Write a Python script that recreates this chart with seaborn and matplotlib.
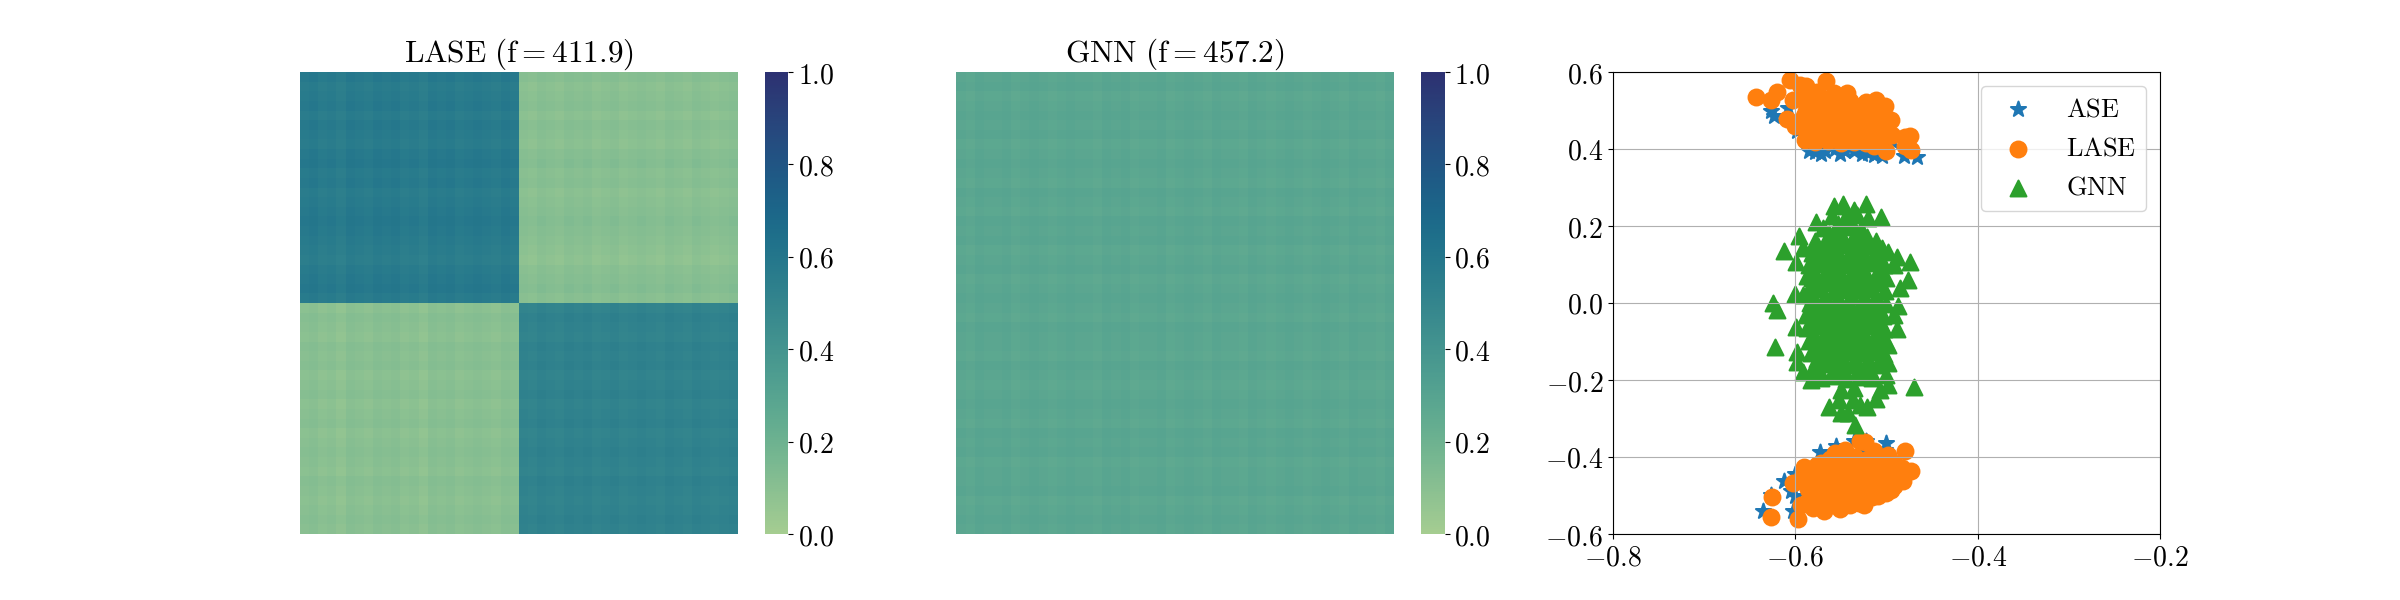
"""
Two probability-matrix heatmaps and the embedding scatter next to them.
Values are read off the reference by eye.
"""
import matplotlib
matplotlib.use("Agg")
import matplotlib.pyplot as plt
import numpy as np
import seaborn as sns

# block levels: [[top-left, top-right], [bottom-left, bottom-right]]
lase_blocks = [[0.57, 0.10], [0.10, 0.52]]
gnn_level = 0.28

# faint row / column stripes, one value per band, top to bottom and left to right
lase_row_bands = [0.01, -0.01, 0.00, 0.01, -0.01, 0.01, 0.00, -0.01, 0.01, 0.02, 0.00, 0.01,
                  -0.01, 0.00, 0.01, 0.02, 0.01, 0.00, -0.01, -0.02, 0.00, 0.01, 0.02, 0.00,
                  -0.01, 0.01, 0.00, -0.01, 0.01, 0.00, 0.01, -0.01, 0.00, 0.01, -0.01, 0.00,
                  0.01, -0.01, 0.00, 0.01, 0.00, -0.01, 0.01, 0.00, -0.01, 0.00, 0.01, 0.00]
lase_col_bands = [0.00, 0.01, -0.01, 0.00, -0.02, 0.01, 0.00, -0.01, 0.01, 0.00, 0.01, -0.01,
                  0.00, -0.02, 0.01, 0.00, 0.01, -0.01, 0.00, 0.01, 0.00, -0.01, 0.01, 0.00,
                  0.00, -0.01, 0.01, 0.00, -0.01, 0.01, 0.00, 0.01, -0.01, 0.00, 0.01, -0.01,
                  0.00, 0.01, 0.00, -0.01, 0.01, 0.00, -0.01, 0.01, 0.00, -0.01, 0.00, 0.01]
gnn_row_bands = [0.00, 0.01, -0.01, 0.00, 0.01, 0.00, 0.01, -0.01, 0.00, 0.01, 0.00, -0.01,
                 0.01, 0.00, -0.01, 0.01, 0.00, 0.01, -0.01, 0.00, 0.01, -0.01, 0.00, 0.01,
                 0.00, -0.01, 0.01, 0.00, 0.00, -0.01, 0.01, 0.00, -0.01, 0.00, 0.01, 0.00,
                 -0.01, 0.01, 0.00, 0.01, -0.01, 0.00, 0.00, 0.01, -0.01, 0.00, 0.01, 0.00]
gnn_col_bands = [0.00, -0.01, 0.01, 0.00, 0.00, 0.01, -0.01, 0.00, 0.01, 0.00, -0.01, 0.00,
                 0.01, 0.00, 0.00, -0.01, 0.01, 0.00, 0.01, -0.01, 0.00, 0.00, 0.01, -0.01,
                 0.00, 0.01, 0.00, -0.01, 0.01, 0.00, 0.00, -0.01, 0.01, 0.00, -0.01, 0.00,
                 0.01, 0.00, -0.01, 0.00, 0.01, 0.00, -0.01, 0.01, 0.00, 0.00, -0.01, 0.01]

ase_x = [-0.627, -0.623, -0.608, -0.598, -0.585, -0.572, -0.567, -0.551, -0.556, -0.536, -0.527, -0.514,
         -0.505, -0.494, -0.481, -0.467, -0.578, -0.545, -0.52,
         -0.635, -0.627, -0.612, -0.605, -0.6, -0.603, -0.587, -0.581, -0.573, -0.555, -0.536, -0.522,
         -0.501, -0.502, -0.527, -0.562, -0.6]
ase_y = [0.5, 0.487, 0.506, 0.446, 0.394, 0.388, 0.394, 0.388, 0.4, 0.394, 0.388, 0.385,
         0.381, 0.42, 0.381, 0.379, 0.392, 0.396, 0.39,
         -0.541, -0.498, -0.463, -0.489, -0.443, -0.539, -0.429, -0.429, -0.388, -0.372, -0.359, -0.359,
         -0.364, -0.381, -0.377, -0.397, -0.502]

lase_x = [-0.643, -0.627, -0.62, -0.606, -0.566, -0.595, -0.588, -0.576, -0.557, -0.543, -0.522, -0.511,
          -0.502, -0.495, -0.494, -0.48, -0.474, -0.48, -0.473, -0.5, -0.514, -0.589, -0.609, -0.603, -0.6,
          -0.592, -0.58, -0.567, -0.553, -0.54, -0.526, -0.512,
          -0.588, -0.575, -0.561, -0.548, -0.534, -0.52, -0.506,
          -0.596, -0.583, -0.57, -0.556, -0.542, -0.528, -0.514, -0.501,
          -0.587, -0.573, -0.56, -0.546, -0.532, -0.518, -0.504,
          -0.578, -0.564, -0.55, -0.536, -0.522, -0.508,
          -0.582, -0.57, -0.555, -0.541, -0.527, -0.513, -0.499,
          -0.59, -0.577, -0.563, -0.549, -0.535, -0.521, -0.507,
          -0.571, -0.557, -0.543, -0.529, -0.515, -0.501,
          -0.625, -0.627, -0.597, -0.603, -0.589, -0.569, -0.551, -0.525, -0.509, -0.5, -0.482, -0.473,
          -0.48, -0.498, -0.514, -0.529, -0.523, -0.545, -0.556, -0.572, -0.594, -0.581, -0.54, -0.496,
          -0.59, -0.576, -0.562, -0.548, -0.534, -0.52, -0.506, -0.492,
          -0.593, -0.58, -0.566, -0.552, -0.538, -0.524, -0.51, -0.496, -0.483,
          -0.586, -0.572, -0.558, -0.544, -0.53, -0.516, -0.502, -0.488,
          -0.565, -0.551, -0.537, -0.523, -0.509, -0.495,
          -0.586, -0.572, -0.558, -0.544, -0.53, -0.516,
          -0.569, -0.555, -0.541, -0.527, -0.513, -0.499, -0.487,
          -0.59, -0.577, -0.563, -0.549, -0.535, -0.521, -0.507, -0.493,
          -0.562, -0.548, -0.534, -0.52, -0.506, -0.492,
          -0.58, -0.566, -0.552, -0.538, -0.524, -0.51]
lase_y = [0.534, 0.526, 0.547, 0.579, 0.577, 0.567, 0.563, 0.547, 0.545, 0.545, 0.521, 0.526,
          0.511, 0.476, 0.437, 0.431, 0.435, 0.407, 0.397, 0.394, 0.407, 0.423, 0.478, 0.528, 0.459,
          0.532, 0.535, 0.528, 0.53, 0.524, 0.515, 0.507,
          0.5, 0.505, 0.498, 0.503, 0.497, 0.495, 0.488,
          0.47, 0.472, 0.468, 0.474, 0.467, 0.471, 0.465, 0.462,
          0.445, 0.442, 0.447, 0.44, 0.444, 0.441, 0.438,
          0.417, 0.42, 0.415, 0.418, 0.416, 0.42,
          0.515, 0.517, 0.514, 0.516, 0.511, 0.486, 0.476,
          0.487, 0.484, 0.486, 0.488, 0.483, 0.482, 0.475,
          0.43, 0.432, 0.429, 0.431, 0.428, 0.43,
          -0.504, -0.556, -0.561, -0.468, -0.455, -0.539, -0.535, -0.524, -0.502, -0.494, -0.463, -0.437,
          -0.385, -0.394, -0.385, -0.359, -0.362, -0.381, -0.39, -0.416, -0.524, -0.532, -0.524, -0.463,
          -0.425, -0.42, -0.405, -0.41, -0.4, -0.405, -0.402, -0.415,
          -0.452, -0.448, -0.44, -0.445, -0.436, -0.44, -0.435, -0.44, -0.428,
          -0.482, -0.477, -0.472, -0.478, -0.468, -0.472, -0.465, -0.458,
          -0.5, -0.505, -0.498, -0.502, -0.495, -0.485,
          -0.515, -0.52, -0.522, -0.517, -0.52, -0.505,
          -0.42, -0.418, -0.422, -0.424, -0.42, -0.425, -0.43,
          -0.465, -0.462, -0.46, -0.456, -0.458, -0.452, -0.45, -0.445,
          -0.49, -0.488, -0.485, -0.482, -0.478, -0.475,
          -0.505, -0.508, -0.51, -0.506, -0.508, -0.49]

gnn_x = [-0.522, -0.548, -0.558, -0.536, -0.506, -0.52, -0.577, -0.596, -0.592, -0.612, -0.599, -0.498,
         -0.488, -0.474, -0.492, -0.511, -0.476, -0.485, -0.624, -0.6, -0.592, -0.587, -0.487,
         -0.62, -0.599, -0.622, -0.598, -0.598, -0.591, -0.583, -0.488, -0.498, -0.498, -0.5, -0.498,
         -0.47, -0.507, -0.511, -0.521, -0.529, -0.537, -0.552, -0.563, -0.55, -0.542, -0.535,
         -0.56, -0.546, -0.532,
         -0.57, -0.556, -0.542, -0.528,
         -0.578, -0.564, -0.55, -0.536, -0.522,
         -0.582, -0.568, -0.554, -0.54, -0.526, -0.512,
         -0.585, -0.571, -0.557, -0.543, -0.529, -0.515, -0.503,
         -0.582, -0.568, -0.554, -0.54, -0.526, -0.512, -0.5,
         -0.586, -0.572, -0.558, -0.544, -0.53, -0.516, -0.502,
         -0.584, -0.57, -0.556, -0.542, -0.528, -0.514, -0.5,
         -0.588, -0.574, -0.56, -0.546, -0.532, -0.518, -0.504, -0.492,
         -0.587, -0.573, -0.559, -0.545, -0.531, -0.517, -0.503,
         -0.585, -0.571, -0.557, -0.543, -0.529, -0.515, -0.501,
         -0.583, -0.569, -0.555, -0.541, -0.527, -0.513, -0.503,
         -0.58, -0.566, -0.552, -0.538, -0.524, -0.51,
         -0.572, -0.558, -0.544, -0.53, -0.516,
         -0.55, -0.536,
         # second pass over the solid middle of the cloud
         -0.553, -0.539, -0.563, -0.549, -0.535, -0.521,
         -0.575, -0.561, -0.547, -0.533, -0.519, -0.505,
         -0.578, -0.564, -0.55, -0.536, -0.522, -0.508,
         -0.579, -0.565, -0.551, -0.537, -0.523, -0.509,
         -0.577, -0.563, -0.549, -0.535, -0.521, -0.507,
         -0.581, -0.567, -0.553, -0.539, -0.525, -0.511,
         -0.58, -0.566, -0.552, -0.538, -0.524, -0.51,
         -0.578, -0.564, -0.55, -0.536, -0.522, -0.508,
         -0.579, -0.565, -0.551, -0.537, -0.523, -0.509,
         -0.577, -0.563, -0.549, -0.535, -0.521, -0.507,
         -0.576, -0.562, -0.548, -0.534, -0.52, -0.506,
         -0.573, -0.559, -0.545, -0.531, -0.517]
gnn_y = [0.258, 0.258, 0.251, 0.241, 0.223, 0.221, 0.21, 0.175, 0.143, 0.134, 0.106, 0.132,
         0.12, 0.106, 0.1, 0.16, 0.06, 0.039, 0.0, 0.024, 0.022, 0.069, -0.009,
         -0.017, -0.062, -0.114, -0.126, -0.152, -0.178, -0.2, -0.068, -0.108, -0.156, -0.186, -0.212,
         -0.219, -0.227, -0.249, -0.27, -0.264, -0.251, -0.251, -0.27, -0.286, -0.286, -0.316,
         0.225, 0.222, 0.228,
         0.195, 0.19, 0.198, 0.193,
         0.162, 0.165, 0.16, 0.168, 0.163,
         0.13, 0.135, 0.128, 0.133, 0.13, 0.136,
         0.098, 0.102, 0.095, 0.1, 0.097, 0.103, 0.099,
         0.065, 0.07, 0.063, 0.068, 0.066, 0.07, 0.064,
         0.032, 0.036, 0.03, 0.035, 0.033, 0.037, 0.031,
         0.0, 0.004, -0.002, 0.003, 0.001, 0.005, -0.003,
         -0.032, -0.028, -0.035, -0.03, -0.033, -0.029, -0.034, -0.03,
         -0.065, -0.06, -0.068, -0.063, -0.066, -0.061, -0.067,
         -0.098, -0.094, -0.1, -0.096, -0.099, -0.095, -0.1,
         -0.13, -0.126, -0.133, -0.128, -0.131, -0.127, -0.132,
         -0.163, -0.159, -0.165, -0.161, -0.164, -0.16,
         -0.195, -0.19, -0.197, -0.192, -0.196,
         -0.225, -0.222,
         0.205, 0.21, 0.178, 0.175, 0.18, 0.172,
         0.148, 0.145, 0.15, 0.146, 0.149, 0.144,
         0.115, 0.118, 0.113, 0.116, 0.114, 0.117,
         0.082, 0.085, 0.08, 0.083, 0.081, 0.084,
         0.05, 0.052, 0.048, 0.051, 0.049, 0.053,
         0.016, 0.018, 0.014, 0.017, 0.015, 0.019,
         -0.016, -0.014, -0.018, -0.015, -0.017, -0.013,
         -0.048, -0.046, -0.05, -0.047, -0.049, -0.045,
         -0.082, -0.08, -0.084, -0.081, -0.083, -0.079,
         -0.114, -0.112, -0.116, -0.113, -0.115, -0.111,
         -0.146, -0.144, -0.148, -0.145, -0.147, -0.143,
         -0.178, -0.176, -0.18, -0.177, -0.179]

x_ticks = [-0.8, -0.6, -0.4, -0.2]
y_ticks = [-0.6, -0.4, -0.2, 0.0, 0.2, 0.4, 0.6]
cbar_ticks = [0.0, 0.2, 0.4, 0.6, 0.8, 1.0]


def fmt(v):
    return f"${v:.1f}$"


def matrix(blocks, rows, cols):
    # each block level plus the row and column stripes
    half = len(rows) // 2
    base = np.block([[np.full((half, half), blocks[0][0]), np.full((half, half), blocks[0][1])],
                     [np.full((half, half), blocks[1][0]), np.full((half, half), blocks[1][1])]])
    return base + np.add.outer(rows, cols)


plt.rcParams["mathtext.fontset"] = "cm"
plt.rcParams["font.size"] = 20

fig, axes = plt.subplots(1, 3, figsize=(24, 6))

heat_data = [matrix(lase_blocks, lase_row_bands, lase_col_bands),
             matrix([[gnn_level] * 2] * 2, gnn_row_bands, gnn_col_bands)]
titles = [r"$\mathrm{LASE\ (f = 411.9)}$", r"$\mathrm{GNN\ (f = 457.2)}$"]
for ax, data, title in zip(axes, heat_data, titles):
    sns.heatmap(data, ax=ax, cmap="crest", vmin=0, vmax=1, xticklabels=False, yticklabels=False)
    ax.set_title(title, fontsize=22.5, pad=3)
    cbar = ax.collections[0].colorbar
    cbar.set_ticks(cbar_ticks, labels=[fmt(t) for t in cbar_ticks])
    cbar.ax.tick_params(labelsize=20)

ax = axes[2]
sns.scatterplot(x=ase_x, y=ase_y, ax=ax, marker="*", s=130, color="C0", edgecolor="face", linewidth=1.5,
                label=r"$\mathrm{ASE}$")
sns.scatterplot(x=lase_x, y=lase_y, ax=ax, marker="o", s=130, color="C1", edgecolor="face", linewidth=1.5,
                label=r"$\mathrm{LASE}$")
sns.scatterplot(x=gnn_x, y=gnn_y, ax=ax, marker="^", s=130, color="C2", edgecolor="face", linewidth=1.5,
                label=r"$\mathrm{GNN}$")
ax.set_xlim(-0.8, -0.2)
ax.set_ylim(-0.6, 0.6)
ax.set_xticks(x_ticks, labels=[fmt(t) for t in x_ticks])
ax.set_yticks(y_ticks, labels=[fmt(t) for t in y_ticks])
ax.tick_params(labelsize=20)
ax.grid(True)
ax.legend(loc="upper right", fontsize=19, borderaxespad=0.52)

fig.savefig("out.png", dpi=100)
